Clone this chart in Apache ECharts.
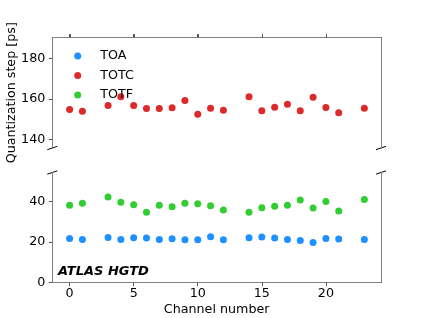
<!DOCTYPE html>
<html>
<head>
<meta charset="utf-8">
<script src="https://cdn.jsdelivr.net/npm/echarts@6/dist/echarts.min.js"></script>
<style>html,body{margin:0;padding:0;background:#fff;}#c{width:423px;height:318px;}</style>
</head>
<body>
<div id="c"></div>
<script>
const channels = [0,1,3,4,5,6,7,8,9,10,11,12,14,15,16,17,18,19,20,21,23];
const toa  = [21.8,21.3,22.3,21.3,22.1,22.0,21.3,21.6,21.1,21.1,22.6,21.1,22.1,22.5,22.0,21.3,20.8,19.8,21.8,21.5,21.3];
const totc = [154.7,153.9,156.7,161.0,156.7,155.2,155.2,155.6,159.2,152.4,155.4,154.4,161.0,154.2,155.9,157.4,154.1,160.8,155.7,153.1,155.4];
const totf = [38.2,39.2,42.3,39.7,38.4,34.7,38.2,37.5,39.2,39.0,37.9,35.9,34.7,37.0,37.7,38.2,40.8,36.9,40.0,35.4,41.0];
const xTicks = [0,5,10,15,20];
const yTicksTop = [140,160,180];
const yTicksBottom = [0,20,40];
const seriesNames = ['TOA','TOTC','TOTF'];

const FONT = 'DejaVu Sans';
const FS = 12.7;
const SPINE = '#808080';
const TICK = '#555';
const XMIN = -1.35, XMAX = 24.3;
const YTOP = [135.8, 190.2], YBOT = [0, 54.4];

const pairs = (ys) => channels.map((c, i) => [c, ys[i]]);

const chart = echarts.init(document.getElementById('c'), null, {renderer: 'canvas'});

function xAxis(grid, pos, labels) {
  return {
    type: 'value', gridIndex: grid, position: pos, min: XMIN, max: XMAX,
    axisLine: {show: true, onZero: false, lineStyle: {color: SPINE, width: 1}},
    axisTick: {show: true, customValues: xTicks, length: 3.5, lineStyle: {color: TICK}},
    axisLabel: {show: labels, customValues: xTicks, margin: 5, color: '#000', fontFamily: FONT, fontSize: FS},
    splitLine: {show: false}
  };
}
function yAxis(grid, range, ticks, name) {
  return {
    type: 'value', gridIndex: grid, position: 'left', min: range[0], max: range[1],
    axisLine: {show: true, onZero: false, lineStyle: {color: SPINE, width: 1}},
    axisTick: {show: true, customValues: ticks, length: 3.5, lineStyle: {color: TICK}},
    axisLabel: {show: true, customValues: ticks, margin: 7, color: '#000', fontFamily: FONT, fontSize: FS},
    splitLine: {show: false},
    name: name || '', nameLocation: 'middle', nameGap: 34, nameMoveOverlap: false,
    nameTextStyle: {color: '#000', fontFamily: FONT, fontSize: FS}
  };
}
function rightAxis(grid, range) {
  return {
    type: 'value', gridIndex: grid, position: 'right', min: range[0], max: range[1],
    axisLine: {show: true, onZero: false, lineStyle: {color: SPINE, width: 1}},
    axisTick: {show: false}, axisLabel: {show: false}, splitLine: {show: false}
  };
}

const bottomX = xAxis(1, 'bottom', true);
bottomX.name = 'Channel number';
bottomX.nameLocation = 'middle';
bottomX.nameGap = 21;
bottomX.nameMoveOverlap = false;
bottomX.nameTextStyle = {color: '#000', fontFamily: FONT, fontSize: FS};

const option = {
  animation: false,
  backgroundColor: '#fff',
  grid: [
    {left: 52.3, right: 42, top: 37.5, height: 110.5, containLabel: false, outerBoundsMode: 'none'},
    {left: 52.3, right: 42, top: 172.5, height: 110, containLabel: false, outerBoundsMode: 'none'}
  ],
  xAxis: [xAxis(0, 'top', false), bottomX],
  yAxis: [
    yAxis(0, YTOP, yTicksTop, 'Quantization step [ps]'),
    rightAxis(0, YTOP),
    yAxis(1, YBOT, yTicksBottom),
    rightAxis(1, YBOT)
  ],
  legend: {
    data: seriesNames, orient: 'vertical', left: 74.2, top: 49.5, padding: 0,
    icon: 'circle', itemWidth: 7, itemHeight: 7, itemGap: 6.5,
    textStyle: {color: '#000', fontFamily: FONT, fontSize: FS, padding: [0, 0, 0, 14]}
  },
  series: [
    {name: seriesNames[0], type: 'scatter', xAxisIndex: 1, yAxisIndex: 2, data: pairs(toa), symbolSize: 7, itemStyle: {color: '#1e90ff', opacity: 1}},
    {name: seriesNames[1], type: 'scatter', xAxisIndex: 0, yAxisIndex: 0, data: pairs(totc), symbolSize: 7, itemStyle: {color: '#dc2a2a', opacity: 1}},
    {name: seriesNames[2], type: 'scatter', xAxisIndex: 1, yAxisIndex: 2, data: pairs(totf), symbolSize: 7, itemStyle: {color: '#32cd32', opacity: 1}}
  ]
};
chart.setOption(option);

const P = (xi, yi, v) => chart.convertToPixel({xAxisIndex: xi, yAxisIndex: yi}, v);
const corners = [
  P(0, 0, [XMIN, YTOP[0]]), P(0, 0, [XMAX, YTOP[0]]),
  P(1, 2, [XMIN, YBOT[1]]), P(1, 2, [XMAX, YBOT[1]])
];
const graphics = corners.map(c => ({
  type: 'line', silent: true,
  shape: {x1: c[0] - 5, y1: c[1] + 1.65, x2: c[0] + 5, y2: c[1] - 1.65},
  style: {stroke: '#000', lineWidth: 1}
}));
// top-axis tick marks of the upper panel, placed through the axis scale
xTicks.forEach(v => {
  const c = P(0, 0, [v, YTOP[1]]);
  const x = Math.round(c[0]) + 0.5;
  graphics.push({
    type: 'line', silent: true, z: 10,
    shape: {x1: x, y1: c[1], x2: x, y2: c[1] - 3.5},
    style: {stroke: TICK, lineWidth: 1}
  });
});
graphics.push({
  type: 'text', left: 58, top: 265.5, silent: true,
  style: {text: 'ATLAS HGTD', font: 'italic bold 13px "DejaVu Sans"', fill: '#000'}
});
chart.setOption({graphic: graphics});
</script>
</body>
</html>
